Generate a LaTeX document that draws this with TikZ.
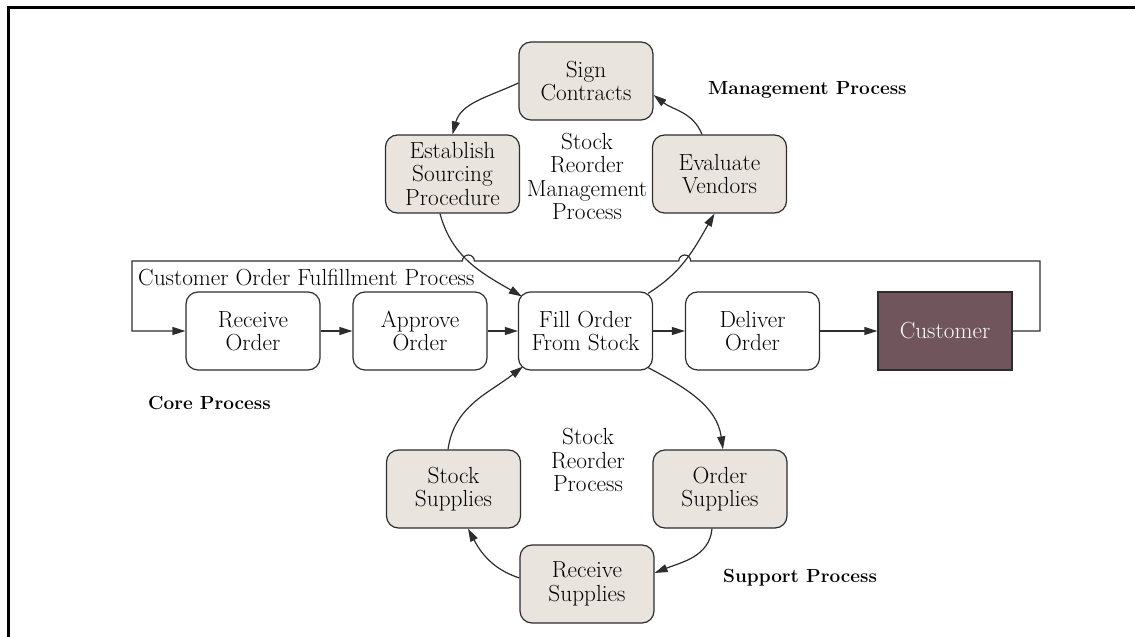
\documentclass[tikz,border=0pt]{standalone}
\usetikzlibrary{arrows.meta,calc,intersections}
\definecolor{boxfill}{RGB}{234,228,222}
\definecolor{custfill}{RGB}{112,86,92}
\definecolor{edge}{RGB}{45,45,45}
\begin{document}
\begin{tikzpicture}[x=1pt,y=1pt,
  txt/.style={font=\fontsize{23.3}{23.5}\selectfont},
  box/.style={txt, draw=edge, line width=1.2pt, rounded corners=12pt,
    minimum width=134pt, minimum height=78pt, inner sep=0pt, align=center},
  plainbox/.style={box, fill=white},
  shadebox/.style={box, fill=boxfill},
  custbox/.style={box, rounded corners=0pt, fill=custfill, text=white},
  lbl/.style={txt, align=center, inner sep=0pt},
  head/.style={font=\bfseries\fontsize{19}{23}\selectfont, inner sep=0pt, anchor=west},
  flow/.style={draw=edge, line width=1.2pt, -{Triangle[length=13pt,width=8pt]}},
]
\useasboundingbox (0,0) rectangle (1135,637);

% page frame
\draw[line width=3pt] (8.5,0) -- (8.5,629.5) -- (1135,629.5);

% management cycle
\node[shadebox] (sign) at (586,556) {Sign\\Contracts};
\node[shadebox] (est)  at (452.5,463) {Establish\\Sourcing\\Procedure};
\node[shadebox] (eval) at (719.5,463) {Evaluate\\Vendors};
\node[lbl] (srmp) at (587,460.5) {Stock\\Reorder\\Management\\Process};
\node[head] (mgmt) at (708,547) {Management Process};

% core row
\node[plainbox] (recv)  at (253,306) {Receive\\Order};
\node[plainbox] (appr)  at (420,306) {Approve\\Order};
\node[plainbox] (fill)  at (585.5,306) {Fill Order\\From Stock};
\node[plainbox] (deliv) at (752.5,306) {Deliver\\Order};
\node[custbox]  (cust)  at (945,306) {Customer};
\node[lbl, anchor=west] (cofp) at (138,359) {Customer Order Fulfillment Process};
\node[head] (core) at (148,234) {Core Process};

% support cycle
\node[shadebox] (stocks) at (453.5,148) {Stock\\Supplies};
\node[shadebox] (orders) at (720,148) {Order\\Supplies};
\node[shadebox] (recvs)  at (587,53) {Receive\\Supplies};
\node[lbl] (srp) at (588,177) {Stock\\Reorder\\Process};
\node[head] (supp) at (723,59) {Support Process};

% management cycle arrows
\draw[flow] ([yshift=-2pt]sign.west) to[out=205,in=75] (est.north);
\draw[flow, name path=arcL] ([xshift=-12.5pt]est.south) to[out=-75,in=150] ([xshift=4pt,yshift=-5pt]fill.north west);
\draw[flow, name path=arcR] ([xshift=-5pt,yshift=-2pt]fill.north east) to[out=32,in=240] ([xshift=-5pt]eval.south);
\draw[flow] ([xshift=-17.5pt]eval.north) to[out=112,in=-38] ([yshift=-14pt]sign.east);

% core row arrows
\draw[flow] (recv) -- (appr);
\draw[flow] (appr) -- (fill);
\draw[flow] (fill) -- (deliv);
\draw[flow] (deliv) -- (cust);

% support cycle arrows
\draw[flow] ([xshift=-5.5pt]stocks.north) to[out=82,in=218] ([xshift=5pt,yshift=4pt]fill.south west);
\draw[flow] ([xshift=-5pt,yshift=3pt]fill.south east) to[out=-28,in=98] ([xshift=3pt]orders.north);
\draw[flow] ([xshift=-8pt]orders.south) to[out=-95,in=22] ([yshift=11pt]recvs.east);
\draw[flow] ([yshift=6pt]recvs.west) to[out=162,in=-62] ([xshift=14.5pt]stocks.south);

% feedback loop from the customer, hopping over the crossing arcs
\coordinate (loopSE) at (1040,306);
\coordinate (loopNE) at (1040,376);
\coordinate (loopNW) at (132,376);
\coordinate (loopSW) at (132,306);
\path[name path=looptop] (loopNE) -- (loopNW);
\path[name intersections={of=looptop and arcR, by=hopR}];
\path[name intersections={of=looptop and arcL, by=hopL}];
\draw[flow] (cust.east) -- (loopSE) -- (loopNE)
  -- ($(hopR)+(6,0)$) arc[start angle=0,end angle=180,radius=6]
  -- ($(hopL)+(6,0)$) arc[start angle=0,end angle=180,radius=6]
  -- (loopNW) -- (loopSW) -- (recv.west);
\end{tikzpicture}
\end{document}
